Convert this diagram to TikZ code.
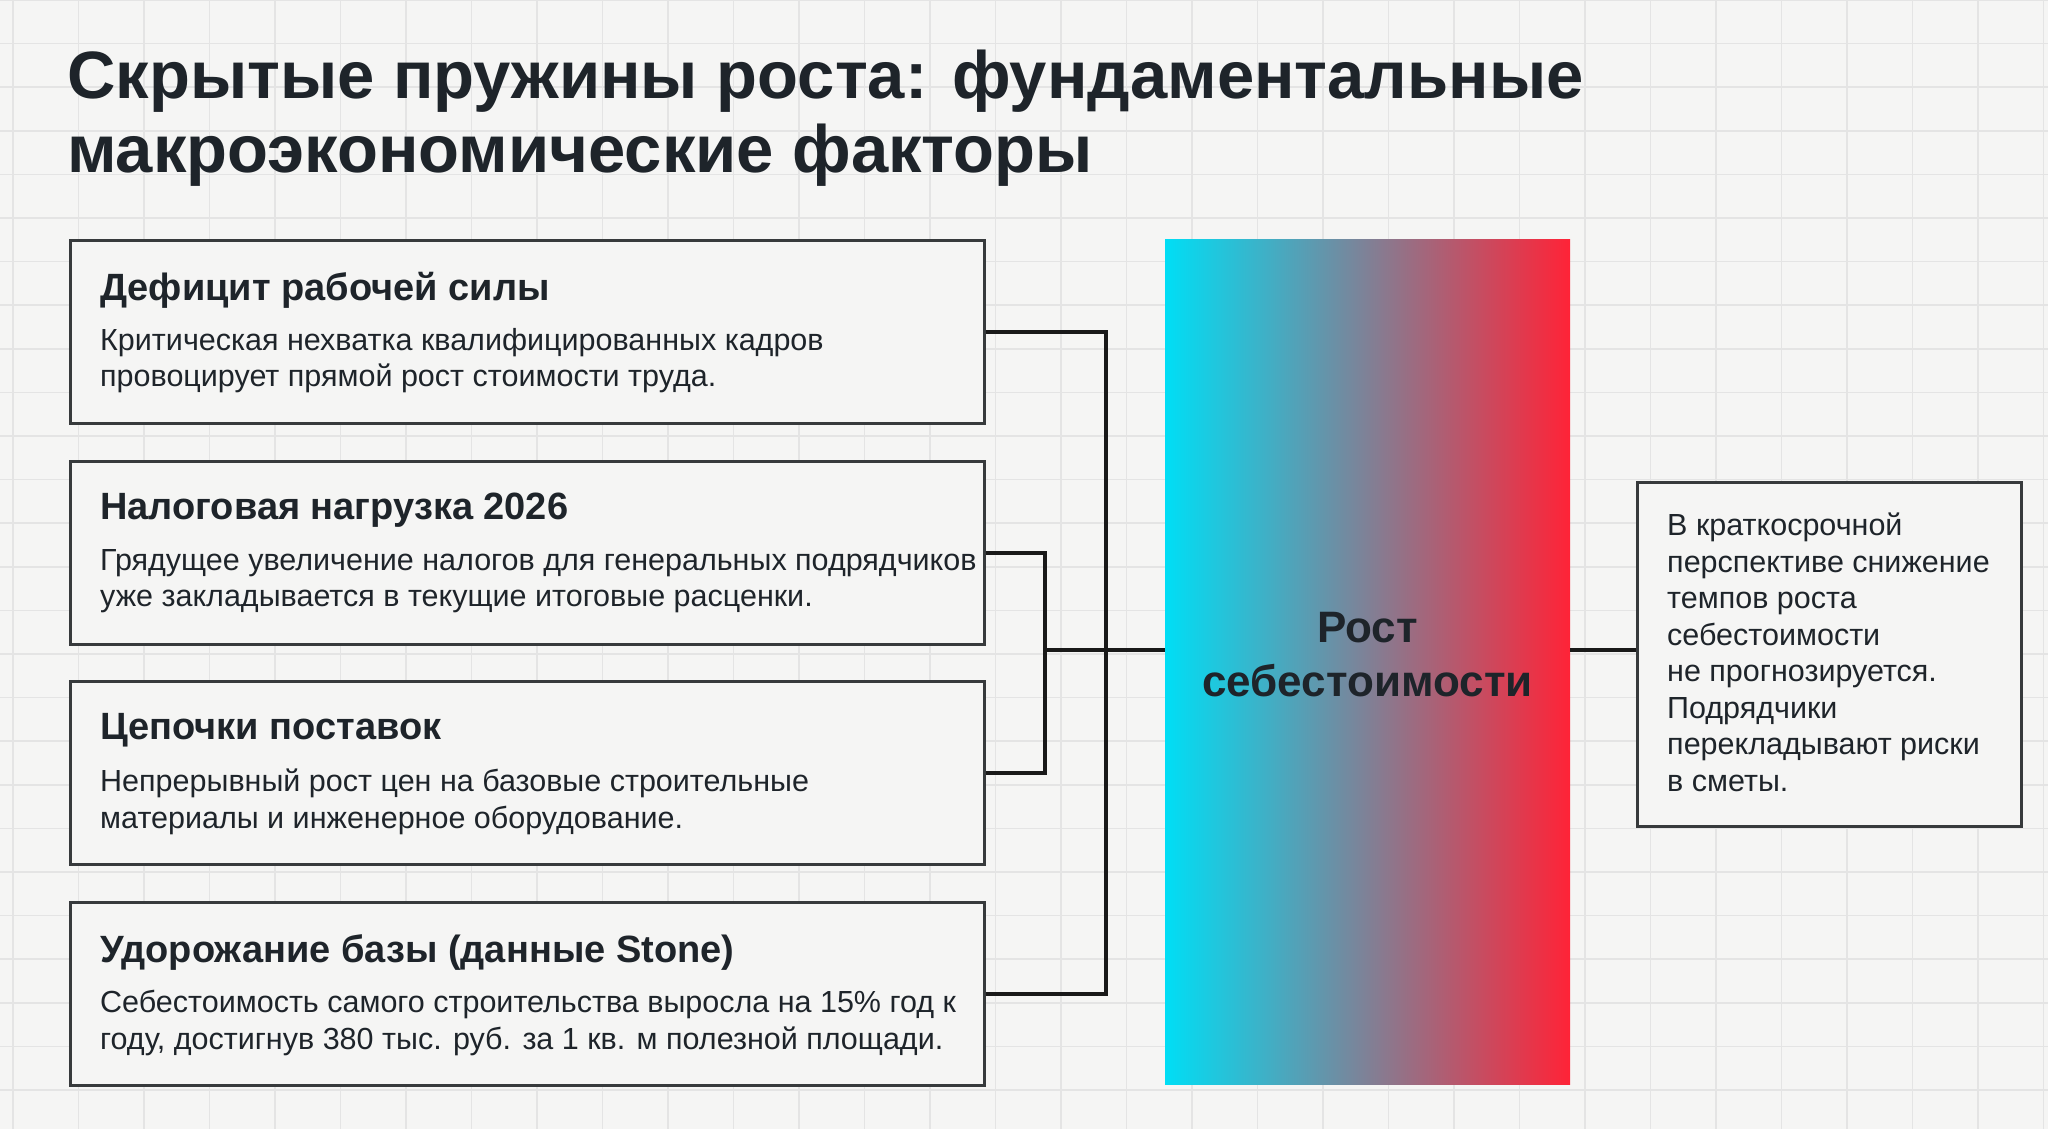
\documentclass[tikz,border=0pt]{standalone}
\usepackage{fontspec}
\setmainfont{Liberation Sans}
\definecolor{bgcol}{RGB}{245,245,244}
\definecolor{gridcol}{RGB}{228,228,228}
\definecolor{inkcol}{RGB}{30,36,42}
\definecolor{boxline}{RGB}{55,58,60}
\definecolor{barcyan}{RGB}{0,222,245}
\definecolor{barmid}{RGB}{160,150,170}
\definecolor{barred}{RGB}{255,35,55}
\tikzset{
  factor/.style={draw=boxline, line width=2.5pt, fill=bgcol, minimum width=914pt, minimum height=183pt, inner sep=0pt},
  head/.style={anchor=north west, inner sep=0pt, font=\fontsize{38}{44}\selectfont\bfseries, text=inkcol},
  body/.style={anchor=north west, inner sep=0pt, align=left, font=\fontsize{30.5}{36.5}\selectfont, text=inkcol},
  wire/.style={draw=black!90, line width=3.5pt}
}
\begin{document}
\begin{tikzpicture}[x=1pt,y=-1pt]
\fill[bgcol] (0,0) rectangle (2048,1129);
\useasboundingbox (0,0) rectangle (2048,1129);
\foreach \i in {0,...,31} \draw[gridcol, line width=1.5pt] (\i*65.5+13,0) -- (\i*65.5+13,1129);
\foreach \j in {0,...,26} \draw[gridcol, line width=1.5pt] (0,\j*43.6) -- (2048,\j*43.6);

% title
\node[anchor=north west, inner sep=0pt, align=left, text=inkcol,
  font=\fontsize{67}{74}\selectfont\bfseries] (title) at (67,50)
  {Скрытые пружины роста: фундаментальные\\макроэкономические факторы};

% factor boxes
\node[factor, anchor=north west] (b1) at (69,239) {};
\node[factor, anchor=north west] (b2) at (69,460) {};
\node[factor, anchor=north west] (b3) at (69,680) {};
\node[factor, anchor=north west] (b4) at (69,901) {};

\node[head] (h1) at (100,272) {Дефицит рабочей силы};
\node[body] (t1) at (100,328) {Критическая нехватка квалифицированных кадров\\провоцирует прямой рост стоимости труда.};
\node[head] (h2) at (100,493) {Налоговая нагрузка 2026};
\node[body] (t2) at (100,549) {Грядущее увеличение налогов для генеральных подрядчиков\\уже закладывается в текущие итоговые расценки.};
\node[head] (h3) at (100,713) {Цепочки поставок};
\node[body] (t3) at (100,769) {Непрерывный рост цен на базовые строительные\\материалы и инженерное оборудование.};
\node[head] (h4) at (100,934) {Удорожание базы (данные Stone)};
\node[body] (t4) at (100,990) {Себестоимость самого строительства выросла на 15\% год к\\году, достигнув 380 тыс. руб. за 1 кв. м полезной площади.};

% central bar
\shade[left color=barcyan, middle color=barmid, right color=barred] (1165,239) rectangle (1570,1084);
\node[minimum width=405pt, minimum height=845pt, inner sep=0pt] (bar) at (1367.5,661.5) {};
\node[align=center, font=\fontsize{44}{54}\selectfont\bfseries, text=inkcol] (bartext) at (1367.5,655) {Рост\\себестоимости};

% note
\node[draw=boxline, line width=2.5pt, fill=bgcol, anchor=north west, minimum width=384pt, minimum height=344pt, inner sep=0pt] (note) at (1636,481) {};
\node[body] (notetext) at (1667,513) {В краткосрочной\\перспективе снижение\\темпов роста\\себестоимости\\не прогнозируется.\\Подрядчики\\перекладывают риски\\в сметы.};

% connectors
\coordinate (jo) at (1106,650);
\coordinate (ji) at (1045,650);
\draw[wire] (b1.east) -| (jo) |- (b4.east);
\draw[wire] (b2.east) -| (ji) |- (b3.east);
\draw[wire] (ji) -- (bar.west |- ji);
\draw[wire] (bar.east |- ji) -- (note.west |- ji);
\end{tikzpicture}
\end{document}
